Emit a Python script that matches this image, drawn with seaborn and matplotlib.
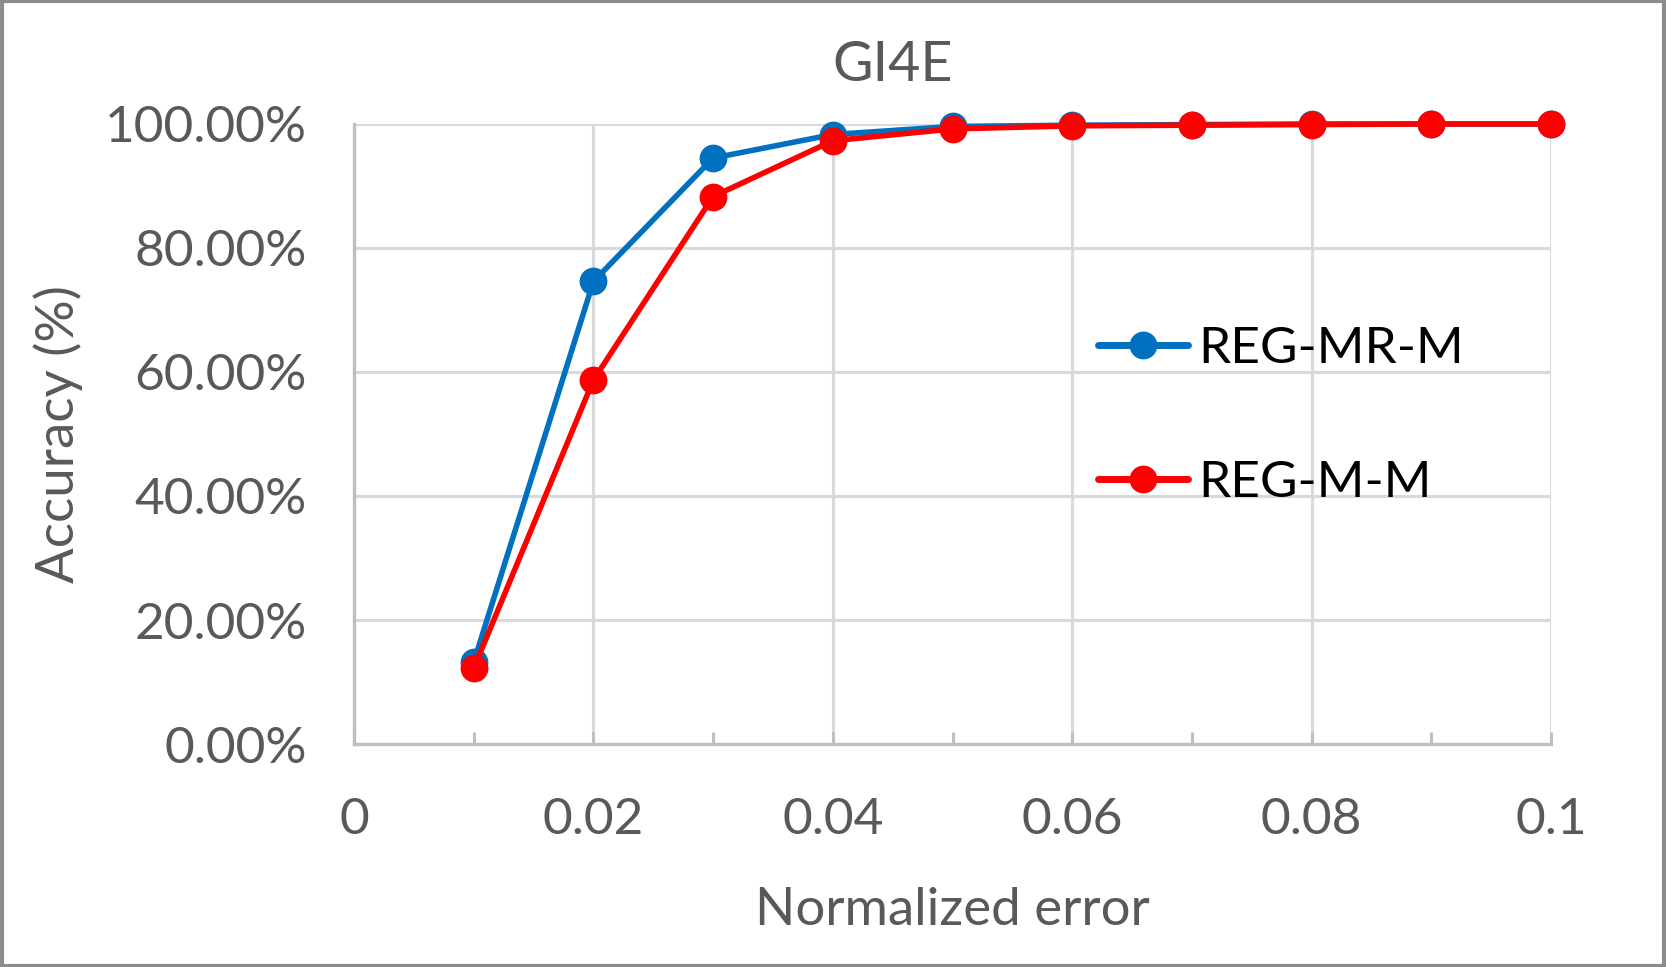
import numpy as np
import pandas as pd
import matplotlib
matplotlib.use("Agg")
import matplotlib.pyplot as plt
from matplotlib.ticker import MultipleLocator, FuncFormatter
from matplotlib.patches import Rectangle
import seaborn as sns

errors = [0.01, 0.02, 0.03, 0.04, 0.05, 0.06, 0.07, 0.08, 0.09, 0.10]
reg_mr_m = [13.2, 74.6, 94.5, 98.3, 99.6, 99.8, 99.9, 100.0, 100.0, 100.0]
reg_m_m = [12.2, 58.7, 88.3, 97.3, 99.2, 99.7, 99.8, 99.9, 100.0, 100.0]
series_names = ["REG-MR-M", "REG-M-M"]
colors = ["#0070C0", "#FF0000"]
x_ticks = [0, 0.02, 0.04, 0.06, 0.08, 0.1]
x_tick_labels = ["0", "0.02", "0.04", "0.06", "0.08", "0.1"]
y_ticks = [0, 20, 40, 60, 80, 100]

sns.set_theme(style="white")
plt.rcParams['font.family'] = ['Lato', 'DejaVu Sans']

df = pd.DataFrame({
    "error": errors * 2,
    "acc": reg_mr_m + reg_m_m,
    "series": [series_names[0]] * len(errors) + [series_names[1]] * len(errors),
})

fig = plt.figure(figsize=(16.66, 9.67), dpi=100)
ax = fig.add_axes([0.2125, 0.2306, 0.7185, 0.6412])

sns.lineplot(data=df, x="error", y="acc", hue="series", hue_order=series_names,
             palette=colors, marker="o", markersize=20, markeredgewidth=0,
             linewidth=4.0, ax=ax, legend=True, clip_on=False)

ax.set_xlim(0, 0.1)
ax.set_ylim(0, 100)
ax.set_xticks(x_ticks)
ax.set_xticklabels(x_tick_labels)
ax.xaxis.set_minor_locator(MultipleLocator(0.01))
ax.set_yticks(y_ticks)
ax.yaxis.set_major_formatter(FuncFormatter(lambda v, p: f"{v:.2f}%"))

ax.grid(True, which="major", color="#d9d9d9", linewidth=2.2)
ax.set_axisbelow(True)
for s in ["top", "right"]:
    ax.spines[s].set_visible(False)
for s in ["left", "bottom"]:
    ax.spines[s].set_color("#bfbfbf")
    ax.spines[s].set_linewidth(2.4)

ax.tick_params(axis="x", which="both", direction="in", length=9, width=2.2,
               color="#bfbfbf", labelsize=37, labelcolor="#595959", pad=38, bottom=True)
ax.tick_params(axis="y", which="both", length=0, labelsize=37, labelcolor="#595959", pad=34)

ax.set_xlabel("Normalized error", fontsize=38, color="#595959", labelpad=32)
ax.set_ylabel("Accuracy (%)", fontsize=38, color="#595959", labelpad=16)
fig.text(0.536, 0.932, "GI4E", fontsize=40, color="#595959", ha="center", va="center")

leg = ax.legend(loc="upper left", bbox_to_anchor=(0.6, 0.715), frameon=False,
                fontsize=37, handlelength=1.75, handletextpad=0.2, labelspacing=1.7,
                borderpad=0)
for t in leg.get_texts():
    t.set_color("black")
for h in leg.legend_handles:
    h.set_linewidth(5)

fig.patches.append(Rectangle((0.001, 0.001), 0.998, 0.998, transform=fig.transFigure,
                             fill=False, edgecolor="#8c8c8c", linewidth=3, zorder=10))

fig.savefig("out.png", dpi=100)
